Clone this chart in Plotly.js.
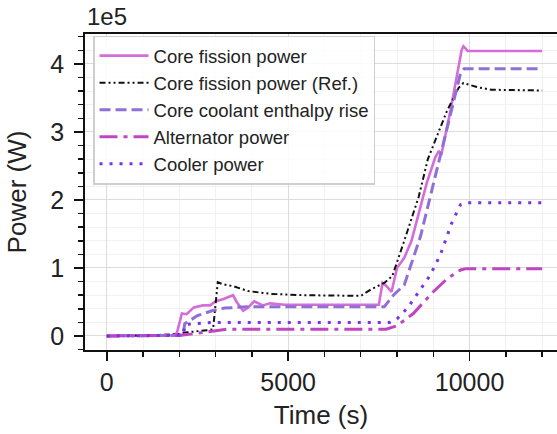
<!DOCTYPE html>
<html>
<head>
<meta charset="utf-8">
<script src="https://cdn.plot.ly/plotly-3.0.1.min.js"></script>
<style>
html,body{margin:0;padding:0;background:#fff;overflow:hidden;}
#chart{width:557px;height:434px;}
</style>
</head>
<body>
<div id="chart"></div>
<script>
// Values in units of 1e5 W, time in seconds
const coreT = [0, 1800, 1930, 2070, 2200, 2400, 2650, 2850, 3000, 3200, 3480, 3580, 3760, 3900, 4060, 4300, 4500, 4900, 7500, 7600, 7700, 7850, 8000, 8200, 8400, 8650, 8820, 9050, 9150, 9220, 9480, 9780, 9830, 9950, 12000];
const coreY = [0, 0.01, 0.04, 0.33, 0.32, 0.42, 0.45, 0.45, 0.51, 0.54, 0.60, 0.50, 0.37, 0.42, 0.51, 0.45, 0.48, 0.46, 0.46, 0.78, 0.74, 0.65, 1.00, 1.15, 1.40, 1.91, 2.25, 2.62, 2.72, 2.66, 3.33, 4.20, 4.26, 4.19, 4.19];

const refT = [0, 1200, 2000, 2150, 2850, 2930, 3060, 3200, 3500, 3900, 4500, 5400, 7000, 7300, 7650, 7870, 8200, 8600, 8850, 9100, 9370, 9700, 9830, 10200, 10600, 12000];
const refY = [0, 0.01, 0.03, 0.05, 0.09, 0.10, 0.79, 0.76, 0.73, 0.66, 0.62, 0.60, 0.59, 0.69, 0.78, 0.88, 1.40, 2.05, 2.60, 2.95, 3.30, 3.65, 3.72, 3.66, 3.62, 3.61];

const enthT = [0, 2100, 2150, 2500, 2900, 3250, 3900, 7650, 7900, 8200, 8650, 9100, 9370, 9750, 9850, 12000];
const enthY = [0, 0.01, 0.18, 0.30, 0.37, 0.41, 0.43, 0.43, 0.60, 0.75, 1.47, 2.46, 3.06, 3.86, 3.93, 3.93];

const altT = [0, 2050, 2500, 2950, 3300, 7700, 8000, 8450, 9000, 9400, 9750, 9900, 12000];
const altY = [0, 0.01, 0.04, 0.08, 0.10, 0.10, 0.15, 0.33, 0.65, 0.85, 0.97, 0.99, 0.99];

const coolT = [0, 2100, 2160, 2900, 7800, 8000, 8300, 8600, 8900, 9200, 9500, 9750, 9900, 12000];
const coolY = [0, 0.01, 0.17, 0.20, 0.20, 0.25, 0.42, 0.65, 0.88, 1.20, 1.65, 1.93, 1.96, 1.96];

const names = ["Core fission power", "Core fission power (Ref.)", "Core coolant enthalpy rise", "Alternator power", "Cooler power"];
const yTicks = [0, 1, 2, 3, 4];
const xTicks = [0, 5000, 10000];

const FONT = "Liberation Sans, Arial, Helvetica, sans-serif";

const traces = [
  {x: coreT, y: coreY, name: names[0], mode: "lines", line: {color: "#d56cd9", width: 2.6}},
  {x: refT, y: refY, name: names[1], mode: "lines", line: {color: "#111111", width: 2, dash: "6px,3px,2px,3px,2px,3px"}},
  {x: enthT, y: enthY, name: names[2], mode: "lines", line: {color: "#9070d4", width: 3, dash: "11px,5px"}},
  {x: altT, y: altY, name: names[3], mode: "lines", line: {color: "#bf45c2", width: 3, dash: "18px,6px,4px,6px"}},
  {x: coolT, y: coolY, name: names[4], mode: "lines", line: {color: "#7a32e6", width: 3, dash: "3px,7px"}}
];

const layout = {
  width: 557, height: 434,
  margin: {l: 85, r: 0, t: 34, b: 84},
  paper_bgcolor: "#ffffff", plot_bgcolor: "#ffffff",
  font: {family: FONT, color: "#222222"},
  showlegend: true,
  legend: {
    x: 0.017, y: 0.995, xanchor: "left", yanchor: "top",
    itemwidth: 49,
    bgcolor: "rgba(255,255,255,0.85)", bordercolor: "#cfcfcf", borderwidth: 1.5,
    font: {family: FONT, size: 18.5, color: "#222222"}
  },
  xaxis: {
    range: [-600, 12410],
    tickvals: xTicks, ticktext: xTicks.map(String),
    ticks: "outside", ticklen: 9, tickwidth: 1.5, tickcolor: "#111",
    showline: true, linecolor: "#111", linewidth: 1.8, mirror: true,
    showgrid: true, gridcolor: "#dcdcdc", gridwidth: 1,
    zeroline: false,
    tickfont: {family: FONT, size: 25, color: "#222"},
    minor: {dtick: 1000, tick0: 0, ticks: "outside", ticklen: 5, tickwidth: 1.5, tickcolor: "#111", showgrid: true, gridcolor: "#f1f1f1", gridwidth: 1},
    title: {text: "Time (s)", font: {family: FONT, size: 26, color: "#222"}, standoff: 11}
  },
  yaxis: {
    range: [-0.206, 4.44],
    tickvals: yTicks, ticktext: yTicks.map(String),
    ticks: "outside", ticklen: 9, tickwidth: 1.5, tickcolor: "#111",
    ticklabelstandoff: 5,
    showline: true, linecolor: "#111", linewidth: 1.8, mirror: false,
    showgrid: true, gridcolor: "#dcdcdc", gridwidth: 1,
    zeroline: false,
    tickfont: {family: FONT, size: 25, color: "#222"},
    minor: {dtick: 0.2, tick0: 0, ticks: "outside", ticklen: 5, tickwidth: 1.5, tickcolor: "#111", showgrid: true, gridcolor: "#f1f1f1", gridwidth: 1},
    title: {text: "Power (W)", font: {family: FONT, size: 26, color: "#222"}, standoff: 16}
  },
  annotations: [
    {text: "1e5", xref: "paper", yref: "paper", x: 0.0, y: 1.0, xanchor: "left", yanchor: "bottom",
     xshift: 0, yshift: 2, showarrow: false, font: {family: FONT, size: 24, color: "#222"}}
  ]
};

Plotly.newPlot("chart", traces, layout, {displayModeBar: false, staticPlot: true});
</script>
</body>
</html>
